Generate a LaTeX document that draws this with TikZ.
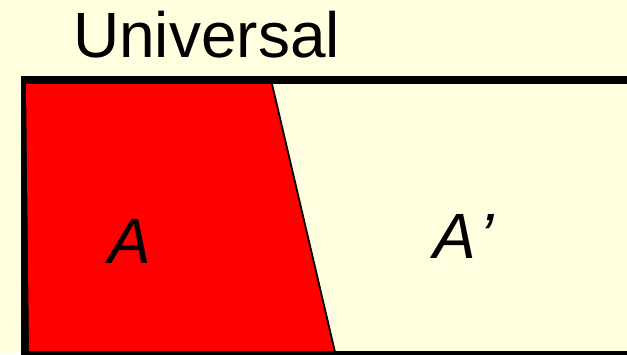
\documentclass[tikz,border=0pt]{standalone}
\usepackage{fontspec}
\setmainfont{Liberation Sans}
\definecolor{paper}{RGB}{255,255,224}
\begin{document}
\begin{tikzpicture}[
        x=1pt, y=-1pt,
        every node/.style={inner sep=0pt, font=\fontsize{64}{64}\selectfont},
        setlabel/.style={font=\fontsize{64}{64}\selectfont\itshape},
        frame/.style={draw=black, line width=8pt},
        region/.style={fill=red, draw=none},
        cut/.style={draw=black, line width=1.8pt}
      ]
      \useasboundingbox[fill=paper] (0,0) rectangle (627,354);
      \clip (0,0) rectangle (627,354);
      % universal set
      \draw[frame] (25,80) rectangle (700,355);
      % set A
      \fill[region] (26,84) -- (272,84) -- (335,351) -- (29,351) -- cycle;
      \draw[cut] (272,84) -- (335,352);
      \node[anchor=base west] (univ) at (73,57) {Universal};
      \node[setlabel, anchor=base] (seta) at (130,263) {A};
      \node[setlabel, anchor=base west] (setc) at (433,258) {A\kern4pt’};
    \end{tikzpicture}
\end{document}
